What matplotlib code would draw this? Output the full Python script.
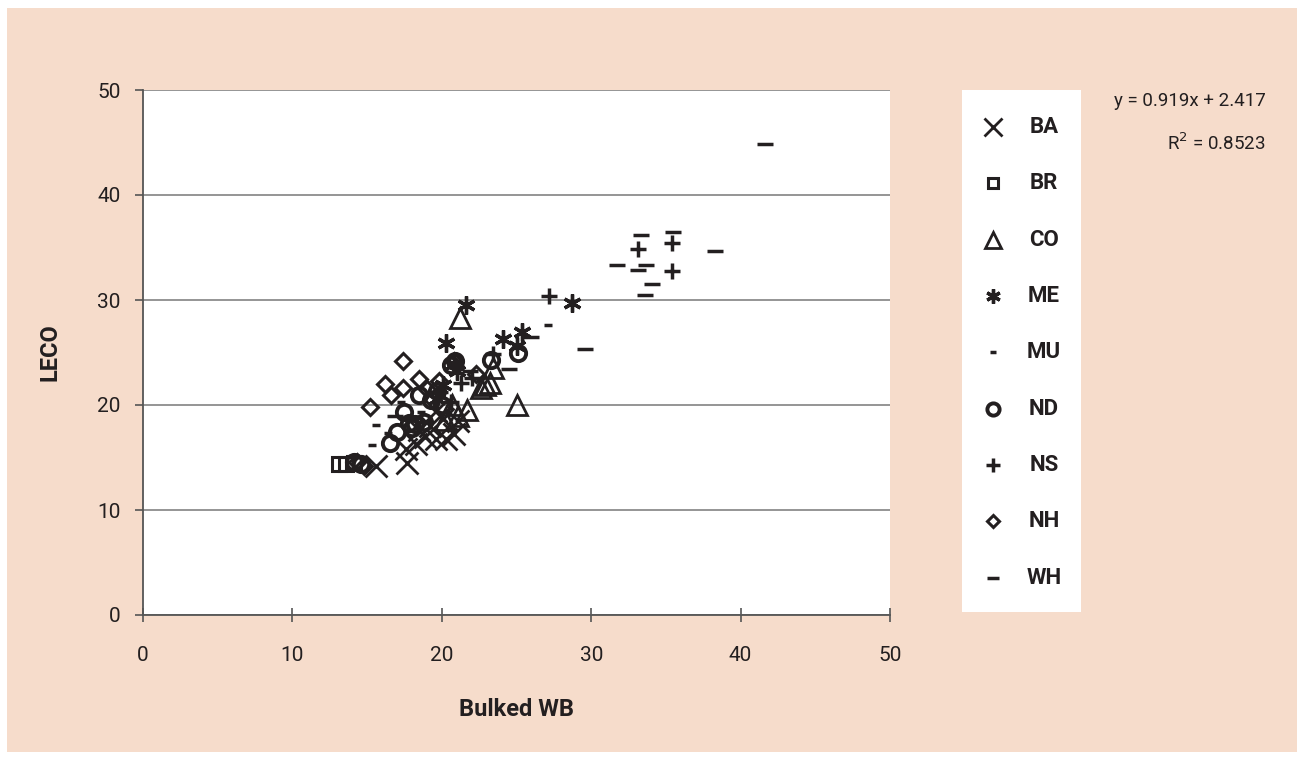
import matplotlib
matplotlib.use("Agg")
import matplotlib.pyplot as plt
from matplotlib.patches import Rectangle
from matplotlib import font_manager

# ---------------- data ----------------
groups = ["BA", "BR", "CO", "ME", "MU", "ND", "NS", "NH", "WH"]

ba_x = [15.6, 17.7, 17.6, 18.3, 18.9, 19.6, 20.3, 20.8, 19.2, 20.1, 21.1, 19.6, 18.5]
ba_y = [14.2, 14.5, 15.8, 16.3, 17.0, 16.8, 16.8, 17.2, 18.0, 18.7, 18.5, 19.4, 17.6]

br_x = [13.1, 13.6, 14.1]
br_y = [14.4, 14.4, 14.5]

co_x = [21.2, 23.4, 22.6, 23.2, 25.0, 20.7, 21.7, 21.1, 22.9, 20.2]
co_y = [28.3, 23.5, 21.6, 22.1, 20.0, 20.0, 19.5, 19.0, 21.9, 18.6]

me_x = [21.6, 28.7, 25.4, 24.1, 25.0, 20.3, 20.8, 21.0, 20.1, 19.7]
me_y = [29.5, 29.7, 27.0, 26.3, 25.6, 25.9, 23.9, 23.2, 21.9, 20.6]

mu_x = [27.1, 17.3, 15.6, 15.3, 16.4, 18.6, 19.8]
mu_y = [27.6, 20.3, 18.1, 16.2, 17.3, 19.3, 21.5]

nd_x = [25.1, 23.3, 18.5, 17.5, 17.0, 16.5, 14.1, 14.6, 19.3, 20.0, 20.6, 18.2, 19.7, 18.0, 20.9, 17.8, 18.8]
nd_y = [25.0, 24.3, 21.0, 19.3, 17.4, 16.4, 14.6, 14.4, 20.5, 20.0, 23.8, 18.2, 21.3, 17.8, 24.2, 18.3, 18.4]

ns_x = [33.1, 35.4, 35.4, 27.2, 23.4, 21.3, 22.0, 19.9, 20.6]
ns_y = [34.9, 35.4, 32.8, 30.4, 24.9, 22.1, 22.6, 21.2, 20.3]

nh_x = [17.4, 16.2, 17.4, 18.5, 16.6, 15.2, 22.3, 20.8, 14.3, 14.8, 19.0, 19.8]
nh_y = [24.2, 22.0, 21.6, 22.5, 21.0, 19.8, 23.0, 24.2, 14.6, 14.2, 21.5, 22.3]

wh_x = [41.6, 33.3, 35.5, 38.3, 31.7, 33.1, 33.7, 34.1, 33.6, 29.6, 26.0, 24.5, 16.9, 21.9, 18.8]
wh_y = [44.9, 36.2, 36.5, 34.7, 33.3, 32.9, 33.3, 31.5, 30.5, 25.3, 26.5, 23.4, 19.0, 23.2, 18.4]

xs = [ba_x, br_x, co_x, me_x, mu_x, nd_x, ns_x, nh_x, wh_x]
ys = [ba_y, br_y, co_y, me_y, mu_y, nd_y, ns_y, nh_y, wh_y]

x_ticks = [0, 10, 20, 30, 40, 50]
y_ticks = [0, 10, 20, 30, 40, 50]
equation = "y = 0.919x + 2.417"
r2_text = r"R$^2$ = 0.8523"

# ---------------- styling ----------------
ink = "#231f20"
peach = "#f6dccb"
styles = {
    "BA": dict(marker="x", ms=16, mew=2.0),
    "BR": dict(marker="s", ms=9.5, mew=2.2, mfc="none"),
    "CO": dict(marker="^", ms=15, mew=2.0, mfc="none"),
    "ME": dict(marker=(6, 2, 0), ms=13, mew=2.4),
    "MU": dict(marker="_", ms=6, mew=2.5),
    "ND": dict(marker="o", ms=11, mew=2.8, mfc="none"),
    "NS": dict(marker="+", ms=12, mew=2.5),
    "NH": dict(marker="D", ms=8, mew=2.2, mfc="none"),
    "WH": dict(marker="_", ms=11, mew=2.5),
}

avail = {f.name for f in font_manager.fontManager.ttflist}
narrow = "Liberation Sans Narrow" if "Liberation Sans Narrow" in avail else "Roboto"
plt.rcParams["font.family"] = [narrow, "DejaVu Sans"]

W, H = 1303, 759
fig = plt.figure(figsize=(W / 100, H / 100), dpi=100, facecolor="white")
bg = Rectangle((7 / W, 1 - 752 / H), 1290 / W, 744 / H,
               transform=fig.transFigure, facecolor=peach,
               edgecolor="none", zorder=-10)
fig.add_artist(bg)

ax = fig.add_axes([143 / W, 1 - 615 / H, (890 - 143) / W, (615 - 90) / H])
ax.set_facecolor("white")
ax.set_xlim(0, 50)
ax.set_ylim(0, 50)
ax.set_xticks(x_ticks)
ax.set_yticks(y_ticks)
ax.yaxis.grid(True, color="#8c8c8c", lw=1.3)
ax.set_axisbelow(True)
for s in ["top", "right"]:
    ax.spines[s].set_visible(False)
for s in ["left", "bottom"]:
    ax.spines[s].set_color("#555555")
    ax.spines[s].set_linewidth(1.3)
ax.tick_params(axis="x", direction="inout", length=10, width=1.2, color="#555555",
               labelsize=15, labelcolor=ink, pad=17)
ax.tick_params(axis="y", direction="out", length=6, width=1.2, color="#555555",
               labelsize=15, labelcolor=ink, pad=10)

for g, gx, gy in zip(groups, xs, ys):
    ax.plot(gx, gy, ls="none", color=ink, mec=ink, clip_on=False, **styles[g])

ax.set_xlabel("Bulked WB", fontsize=17, fontweight="bold", color=ink, labelpad=24)
ax.set_ylabel("LECO", fontsize=17, fontweight="bold", color=ink, labelpad=26)

# legend panel
lx0, lx1, ly0, ly1 = 962, 1081, 90, 612
lax = fig.add_axes([lx0 / W, 1 - ly1 / H, (lx1 - lx0) / W, (ly1 - ly0) / H])
lax.set_facecolor("white")
lax.set_xlim(lx0, lx1)
lax.set_ylim(ly1, ly0)
lax.set_xticks([])
lax.set_yticks([])
for s in lax.spines.values():
    s.set_visible(False)
entry_y = [127, 183, 240, 296, 352, 409, 465, 521, 578]
for g, yy in zip(groups, entry_y):
    st = dict(styles[g])
    st["ms"] = st["ms"] * 0.8
    lax.plot([993], [yy], ls="none", color=ink, mec=ink, **st)
    lax.text(1044, yy, g, ha="center", va="center", fontsize=16,
             fontweight="bold", color=ink)

fig.text(1266 / W, 1 - 101 / H, equation, ha="right", va="center",
         fontsize=13.5, color=ink)
fig.text(1266 / W, 1 - 143 / H, r2_text, ha="right", va="center",
         fontsize=13.5, color=ink)

fig.savefig("out.png", dpi=100, facecolor="white")
